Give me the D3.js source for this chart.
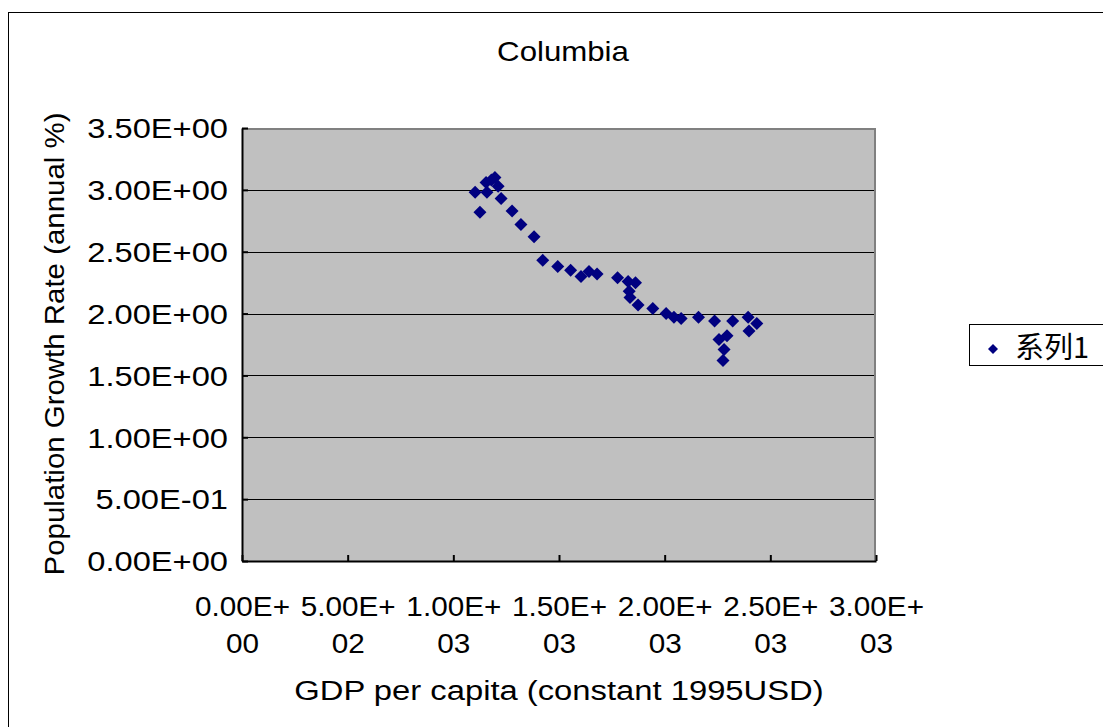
<!DOCTYPE html>
<html>
<head>
<meta charset="utf-8">
<script src="https://cdn.jsdelivr.net/npm/d3@7"></script>
<style>
  html, body { margin: 0; padding: 0; background: #fff; }
  svg { display: block; }
  text { font-family: "Liberation Sans", Arial, sans-serif; fill: #000; }
</style>
</head>
<body>
<svg id="chart" width="1103" height="727"></svg>
<script>
// GDP per capita (constant 1995 USD) vs. population growth rate, Colombia
const gdpPerCapita = [
  1103, 1126, 1155, 1159, 1180, 1197, 1212, 1226, 1278, 1320, 1382,
  1423, 1494, 1555, 1604, 1642, 1680, 1777, 1827, 1862, 1832, 1836,
  1874, 1944, 2007, 2044, 2078, 2160, 2236, 2322, 2395, 2436, 2399,
  2295, 2257, 2281, 2276
];
const growthRate = [
  2.98, 2.82, 3.06, 2.98, 3.08, 3.10, 3.03, 2.93, 2.83, 2.72, 2.62,
  2.43, 2.38, 2.35, 2.30, 2.34, 2.32, 2.29, 2.26, 2.25, 2.18, 2.13,
  2.07, 2.04, 2.00, 1.97, 1.96, 1.97, 1.94, 1.94, 1.97, 1.92, 1.86,
  1.82, 1.79, 1.71, 1.62
];
const xTicks = [0, 500, 1000, 1500, 2000, 2500, 3000];
const yTicks = [0, 0.5, 1.0, 1.5, 2.0, 2.5, 3.0, 3.5];
const seriesName = "系列1";
const chartTitle = "Columbia";
const xTitle = "GDP per capita (constant 1995USD)";
const yTitle = "Population Growth Rate (annual %)";

// horizontal stretch of the wide spreadsheet glyphs
const SX_Y = 1.21;
const SX_X = 1.10;
const SX_T = 1.156;

// Spreadsheet-style scientific notation, e.g. 1.50E+03
function sci(v) {
  const [m, e] = v.toExponential(2).split("e");
  const sign = e[0] === "-" ? "-" : "+";
  const digits = e.replace(/[+-]/, "").padStart(2, "0");
  return [m + "E" + sign, digits];
}

const svg = d3.select("#chart");
const plot = { left: 242, top: 128, right: 876, bottom: 561 };

const x = d3.scaleLinear().domain([0, 3000]).range([plot.left, plot.right]);
const y = d3.scaleLinear().domain([0, 3.5]).range([plot.bottom, plot.top]);

// outer chart frame
svg.append("rect")
  .attr("x", 8.5).attr("y", 12.5)
  .attr("width", 1200).attr("height", 800)
  .attr("fill", "none").attr("stroke", "#000").attr("stroke-width", 1);

// plot background
svg.append("rect")
  .attr("x", plot.left).attr("y", plot.top)
  .attr("width", plot.right - plot.left).attr("height", plot.bottom - plot.top)
  .attr("fill", "#c0c0c0");

// horizontal gridlines
svg.append("g")
  .selectAll("line")
  .data(yTicks.filter(d => d > 0 && d < 3.5))
  .join("line")
  .attr("x1", plot.left).attr("x2", plot.right)
  .attr("y1", d => Math.round(y(d)) + 0.5).attr("y2", d => Math.round(y(d)) + 0.5)
  .attr("stroke", "#000").attr("stroke-width", 1);

// plot frame: grey top/right
svg.append("path")
  .attr("d", `M${plot.left},${plot.top + 1}H${plot.right - 1}V${plot.bottom}`)
  .attr("fill", "none").attr("stroke", "#808080").attr("stroke-width", 2);

// y axis
const yAxis = d3.axisLeft(y).tickValues(yTicks).tickSizeInner(-6).tickSizeOuter(0)
  .tickFormat(d => sci(d).join(""));
const gy = svg.append("g").attr("transform", `translate(${plot.left},0)`).call(yAxis);
gy.select(".domain").attr("stroke", "#000").attr("stroke-width", 2);
gy.selectAll(".tick line").attr("stroke", "#000").attr("stroke-width", 2);
gy.selectAll(".tick text")
  .style("font-family", '"Liberation Sans", Arial, sans-serif')
  .style("font-size", "27px").attr("fill", "#000")
  .attr("x", -14 / SX_Y).attr("dy", "0.36em")
  .attr("transform", `scale(${SX_Y},1)`);

// x axis
const xAxis = d3.axisBottom(x).tickValues(xTicks).tickSizeInner(-6).tickSizeOuter(0)
  .tickFormat("");
const gx = svg.append("g").attr("transform", `translate(0,${plot.bottom})`).call(xAxis);
gx.select(".domain").attr("stroke", "#000").attr("stroke-width", 2);
gx.selectAll(".tick line").attr("stroke", "#000").attr("stroke-width", 2);
gx.selectAll(".tick").each(function (d) {
  const parts = sci(d);
  const t = d3.select(this).append("text")
    .attr("text-anchor", "middle")
    .attr("transform", `scale(${SX_X},1)`)
    .style("font-family", '"Liberation Sans", Arial, sans-serif')
    .style("font-size", "27px").attr("fill", "#000");
  t.append("tspan").attr("x", 0).attr("y", 55).text(parts[0]);
  t.append("tspan").attr("x", 0).attr("y", 92).text(parts[1]);
});

// data markers
const diamond = r => `M0,${-r}L${r},0L0,${r}L${-r},0Z`;
svg.append("g")
  .selectAll("path")
  .data(gdpPerCapita.map((g, i) => [g, growthRate[i]]))
  .join("path")
  .attr("d", diamond(6.5))
  .attr("transform", d => `translate(${x(d[0])},${y(d[1])})`)
  .attr("fill", "#000080");

// titles
svg.append("text").attr("transform", `translate(563,61) scale(${SX_T},1)`)
  .attr("text-anchor", "middle")
  .style("font-size", "27px").text(chartTitle);
svg.append("text").attr("transform", `translate(559,700) scale(${SX_T * 1.05},1)`)
  .attr("text-anchor", "middle")
  .style("font-size", "27px").text(xTitle);
svg.append("text")
  .attr("transform", `translate(64,344) rotate(-90) scale(1.09,1)`)
  .attr("text-anchor", "middle")
  .style("font-size", "27px").text(yTitle);

// legend
const lg = svg.append("g").attr("transform", "translate(969,324)");
lg.append("rect").attr("x", 0.5).attr("y", 0.5).attr("width", 200).attr("height", 41)
  .attr("fill", "#fff").attr("stroke", "#000").attr("stroke-width", 1);
lg.append("path").attr("d", diamond(5)).attr("transform", "translate(24,25)")
  .attr("fill", "#000080");
lg.append("text").attr("x", 46).attr("y", 34)
  .style("font-family", '"Noto Sans CJK SC", "Liberation Sans", sans-serif')
  .style("font-size", "29px").text(seriesName);
</script>
</body>
</html>
